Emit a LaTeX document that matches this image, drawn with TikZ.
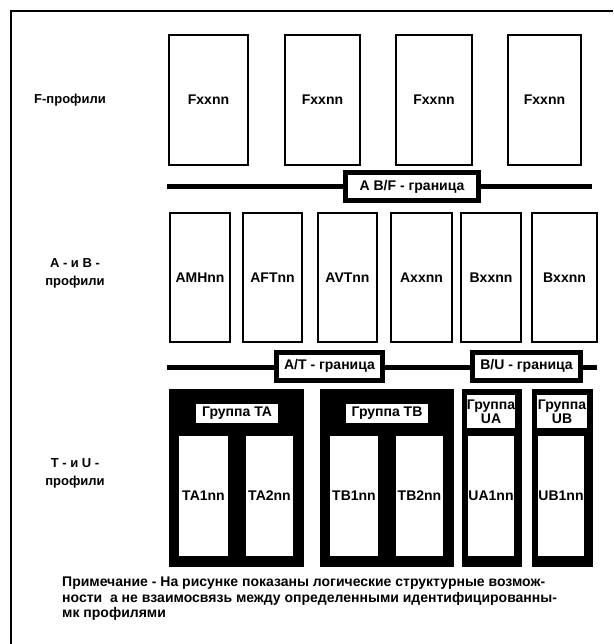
\documentclass[tikz,border=0pt]{standalone}
\usepackage{fontspec}
\setmainfont{Liberation Sans}
\usetikzlibrary{positioning}

\begin{document}
\begin{tikzpicture}[x=1pt,y=-1pt,
every node/.style={inner sep=0pt,font=\bfseries\fontsize{14}{16}\selectfont},
fbox/.style={draw,line width=2.5pt,minimum height=130pt},
abox/.style={draw,line width=2.5pt,minimum height=129pt},
grp/.style={fill=black,minimum height=178pt},
cell/.style={fill=white,minimum height=120pt},
glabel/.style={fill=white,align=center,font=\bfseries\fontsize{14}{11.5}\selectfont},
bndlabel/.style={draw,fill=white,line width=5pt,minimum height=28pt,font=\bfseries\fontsize{14}{15}\selectfont},
bnd/.style={line width=5pt},
side/.style={align=center,font=\bfseries\fontsize{13}{18}\selectfont}]
\useasboundingbox (0,0) rectangle (613,644);
% frame
\draw[line width=1.5pt] (11,644) -- (11,11) -- (613,11);

% F level
\node[side] (lF) at (70,100) {F-профили};
\node[fbox,minimum width=79pt] (F1) at (208.5,100) {Fxxnn};
\node[fbox,minimum width=75pt] (F2) at (322.5,100) {Fxxnn};
\node[fbox,minimum width=76pt] (F3) at (434,100) {Fxxnn};
\node[fbox,minimum width=73pt] (F4) at (544.5,100) {Fxxnn};

% A B/F boundary
\coordinate (abfL) at (167,187);
\coordinate (abfR) at (592,187);
\draw[bnd] (abfL) -- (abfR);
\node[bndlabel,minimum width=133pt] (abf) at (412,186.5) {A B/F - граница};

% A and B level
\node[side] (lAB) at (75,273) {А - и В -\\профили};
\node[abox,minimum width=60pt] (A1) at (200,277.5) {AMHnn};
\node[abox,minimum width=59pt] (A2) at (272.5,277.5) {AFTnn};
\node[abox,minimum width=59pt] (A3) at (347.5,277.5) {AVTnn};
\node[abox,minimum width=61pt] (A4) at (421.5,277.5) {Axxnn};
\node[abox,minimum width=60pt] (B1) at (491,277.5) {Bxxnn};
\node[abox,minimum width=65pt] (B2) at (564.5,277.5) {Bxxnn};

% A/T and B/U boundary
\coordinate (atL) at (167,367);
\coordinate (atR) at (597,367);
\draw[bnd] (atL) -- (atR);
\node[bndlabel,minimum width=106pt] (at) at (329.5,366) {A/T - граница};
\node[bndlabel,minimum width=108pt] (bu) at (526.5,366) {B/U - граница};

% T and U level
\node[side] (lTU) at (75,473) {Т - и U -\\профили};
\node[grp,minimum width=135pt] (gTA) at (236.5,478) {};
\node[grp,minimum width=134pt] (gTB) at (387,478) {};
\node[grp,minimum width=60pt] (gUA) at (492,478) {};
\node[grp,minimum width=61pt] (gUB) at (562.5,478) {};
\node[glabel,minimum width=82pt,minimum height=19pt] (tTA) at (237,413.5) {Группа TA};
\node[glabel,minimum width=82pt,minimum height=19pt] (tTB) at (387,413.5) {Группа TB};
\node[glabel,minimum width=48pt,minimum height=33pt] (tUA) at (491,411.5) {Группа\\UA};
\node[glabel,minimum width=50pt,minimum height=33pt] (tUB) at (562,411.5) {Группа\\UB};
\node[cell,minimum width=49pt] (TA1) at (203.5,496) {TA1nn};
\node[cell,minimum width=47pt] (TA2) at (269.5,496) {TA2nn};
\node[cell,minimum width=48pt] (TB1) at (354,496) {TB1nn};
\node[cell,minimum width=47pt] (TB2) at (419.5,496) {TB2nn};
\node[cell,minimum width=44pt] (UA1) at (491,496) {UA1nn};
\node[cell,minimum width=44pt] (UB1) at (561,496) {UB1nn};

% note
\node[anchor=north west,align=left,font=\bfseries\fontsize{14}{15.5}\selectfont] (note) at (62,577)
  {Примечание - На рисунке показаны логические структурные возмож-\\
   ности\ \ а не взаимосвязь между определенными идентифицированны-\\
   мк профилями};
\end{tikzpicture}
\end{document}
